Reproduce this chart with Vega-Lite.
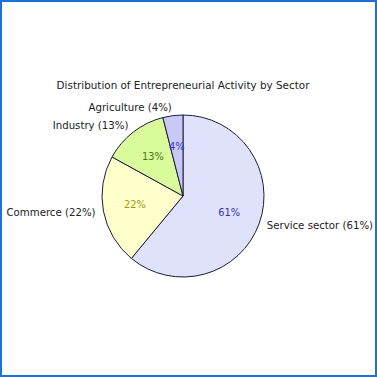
{
  "$schema": "https://vega.github.io/schema/vega-lite/v6.json",
  "width": 377,
  "height": 377,
  "autosize": "none",
  "padding": 0,
  "background": "white",
  "view": {"stroke": "#1f6fd8", "strokeWidth": 4},
  "title": {
    "text": "Distribution of Entrepreneurial Activity by Sector",
    "font": "DejaVu Sans",
    "fontSize": 10.4,
    "fontWeight": "normal",
    "color": "#222222",
    "orient": "top",
    "anchor": "middle",
    "frame": "group",
    "offset": -91,
    "dx": -5.5
  },
  "data": {
    "values": [
      {"sector": "Service sector", "share": 61, "idx": 1, "label": "Service sector (61%)", "pct": "61%"},
      {"sector": "Commerce", "share": 22, "idx": 2, "label": "Commerce (22%)", "pct": "22%"},
      {"sector": "Industry", "share": 13, "idx": 3, "label": "Industry (13%)", "pct": "13%"},
      {"sector": "Agriculture", "share": 4, "idx": 4, "label": "Agriculture (4%)", "pct": "4%"}
    ]
  },
  "encoding": {
    "theta": {"field": "share", "type": "quantitative", "stack": true},
    "order": {"field": "idx", "type": "quantitative"}
  },
  "layer": [
    {
      "mark": {"type": "arc", "outerRadius": 81, "stroke": "#1c1c3c", "strokeWidth": 1, "xOffset": -5.5, "yOffset": 7.5},
      "encoding": {
        "color": {
          "field": "sector",
          "type": "nominal",
          "scale": {"domain": ["Service sector", "Commerce", "Industry", "Agriculture"], "range": ["#e0e1fb", "#ffffcc", "#d9fb9c", "#c9c9f8"]},
          "legend": null
        }
      }
    },
    {
      "mark": {"type": "text", "radius": 49, "font": "DejaVu Sans", "fontSize": 9.8, "xOffset": -5.5, "yOffset": 7.5},
      "encoding": {
        "text": {"field": "pct", "type": "nominal"},
        "color": {
          "field": "sector",
          "type": "nominal",
          "scale": {"domain": ["Service sector", "Commerce", "Industry", "Agriculture"], "range": ["#3535a8", "#9a9a10", "#4a7a10", "#3535c8"]},
          "legend": null
        }
      }
    },
    {
      "mark": {"type": "text", "radius": 89, "align": "left", "baseline": "middle", "font": "DejaVu Sans", "fontSize": 10.2, "color": "#222222", "xOffset": -5.5, "yOffset": 7.5},
      "encoding": {
        "text": {"condition": {"test": "datum.sector === 'Service sector'", "field": "label"}, "value": ""}
      }
    },
    {
      "mark": {"type": "text", "radius": 89, "align": "right", "baseline": "middle", "font": "DejaVu Sans", "fontSize": 10.2, "color": "#222222", "xOffset": -5.5, "yOffset": 7.5},
      "encoding": {
        "text": {"condition": {"test": "datum.sector !== 'Service sector'", "field": "label"}, "value": ""}
      }
    }
  ],
  "resolve": {"scale": {"color": "independent"}}
}
